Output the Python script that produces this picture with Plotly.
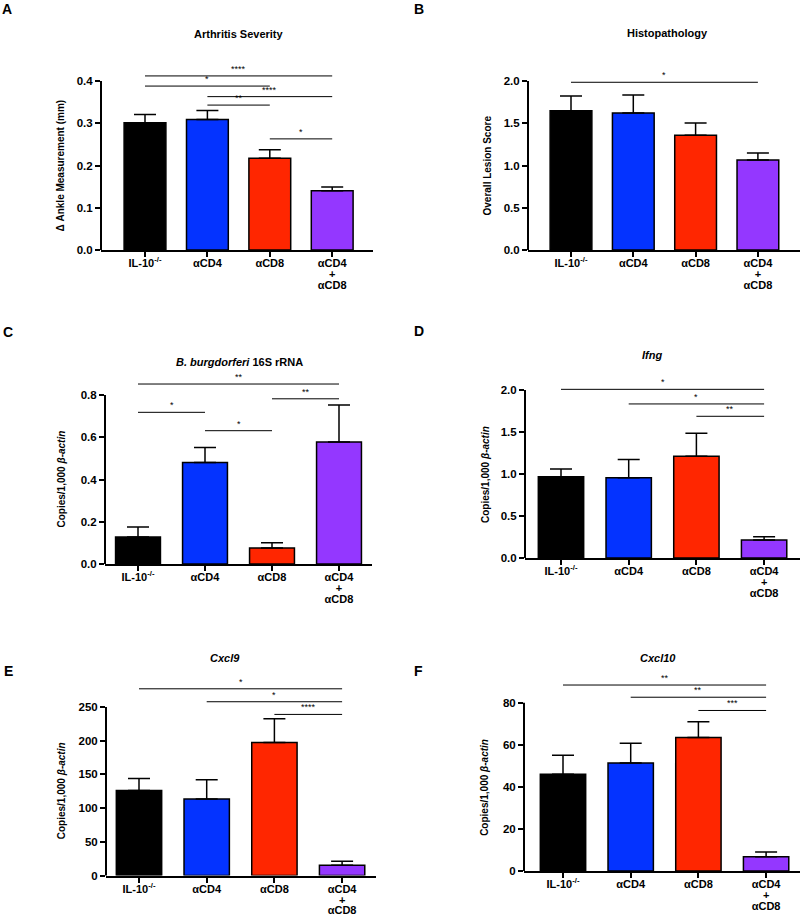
import plotly.graph_objects as go

W, H = 800, 916

categories = ["IL-10<sup>-/-</sup>", "αCD4", "αCD8", "αCD4<br>+<br>αCD8"]
bar_colors = ["#000000", "#0433FF", "#FF2600", "#9437FF"]

# Panel A - Arthritis severity
a_mean = [0.301, 0.309, 0.217, 0.140]
a_sem = [0.020, 0.021, 0.020, 0.009]
a_sig = [(0, 3, 0.412, "****"), (0, 2, 0.388, "*"), (1, 3, 0.363, "****"),
         (1, 2, 0.343, "**"), (2, 3, 0.263, "*")]

# Panel B - Histopathology
b_mean = [1.648, 1.620, 1.357, 1.065]
b_sem = [0.174, 0.214, 0.146, 0.083]
b_sig = [(0, 3, 1.985, "*")]

# Panel C - B. burgdorferi 16S rRNA
c_mean = [0.128, 0.481, 0.076, 0.578]
c_sem = [0.047, 0.071, 0.025, 0.175]
c_sig = [(0, 3, 0.852, "**"), (0, 1, 0.718, "*"), (1, 2, 0.631, "*"), (2, 3, 0.782, "**")]

# Panel D - Ifng
d_mean = [0.966, 0.954, 1.212, 0.214]
d_sem = [0.095, 0.218, 0.273, 0.039]
d_sig = [(0, 3, 2.008, "*"), (1, 3, 1.834, "*"), (2, 3, 1.687, "**")]

# Panel E - Cxcl9
e_mean = [126.0, 113.6, 197.5, 15.3]
e_sem = [18.0, 28.4, 35.0, 6.0]
e_sig = [(0, 3, 277, "*"), (1, 3, 257.8, "*"), (2, 3, 239, "****")]

# Panel F - Cxcl10
f_mean = [46.0, 51.3, 63.4, 6.8]
f_sem = [9.0, 9.4, 7.6, 2.2]
f_sig = [(0, 3, 88.4, "**"), (1, 3, 82.6, "**"), (2, 3, 76.3, "***")]

beta = "Copies/1,000 <i>β-actin</i>"
panels = [
    dict(letter="A", title="Arthritis Severity", ytitle="Δ Ankle Measurement (mm)",
         mean=a_mean, sem=a_sem, sig=a_sig, top=0.4, dtick=0.1, fmt=".1f",
         ax_l=101, ax_r=373, c0=145, sp=62.4, y0=250, yt=81,
         title_xy=(239, 34), letter_xy=(7, 8), ytitle_x=60),
    dict(letter="B", title="Histopathology", ytitle="Overall Lesion Score",
         mean=b_mean, sem=b_sem, sig=b_sig, top=2.0, dtick=0.5, fmt=".1f",
         ax_l=528, ax_r=800, c0=571, sp=62.3, y0=250, yt=81,
         title_xy=(667, 33), letter_xy=(419, 8), ytitle_x=487),
    dict(letter="C", title="<i>B. burgdorferi</i> 16S rRNA", ytitle=beta,
         mean=c_mean, sem=c_sem, sig=c_sig, top=0.8, dtick=0.2, fmt=".1f",
         ax_l=105, ax_r=372, c0=138, sp=67.0, y0=564, yt=395,
         title_xy=(239, 362), letter_xy=(8, 332), ytitle_x=61),
    dict(letter="D", title="<i>Ifng</i>", ytitle=beta,
         mean=d_mean, sem=d_sem, sig=d_sig, top=2.0, dtick=0.5, fmt=".1f",
         ax_l=525, ax_r=800, c0=561, sp=67.7, y0=558, yt=390,
         title_xy=(652, 355), letter_xy=(419, 331), ytitle_x=485),
    dict(letter="E", title="<i>Cxcl9</i>", ytitle=beta,
         mean=e_mean, sem=e_sem, sig=e_sig, top=250, dtick=50, fmt="d",
         ax_l=106, ax_r=376, c0=139, sp=67.7, y0=875.5, yt=707,
         title_xy=(225, 658), letter_xy=(8, 671), ytitle_x=61),
    dict(letter="F", title="<i>Cxcl10</i>", ytitle=beta,
         mean=f_mean, sem=f_sem, sig=f_sig, top=80, dtick=20, fmt="d",
         ax_l=524, ax_r=800, c0=563, sp=67.7, y0=871, yt=702.7,
         title_xy=(658, 658), letter_xy=(418, 671), ytitle_x=485),
]


def px(x):
    return x / W


def py(y):
    return 1 - y / H


def tick_label(txt, size=11):
    # each line drawn at `size`, while the base font (smaller) sets a tight line spacing
    return "<br>".join(f"<span style='font-size:{size}px'>{part}</span>"
                       for part in txt.split("<br>"))


FONT = "Arial, Liberation Sans, Helvetica, sans-serif"
fig = go.Figure()
shapes = []
annotations = []
layout_axes = {}

for i, p in enumerate(panels, start=1):
    xa = "x" if i == 1 else f"x{i}"
    ya = "y" if i == 1 else f"y{i}"
    xkey = "xaxis" if i == 1 else f"xaxis{i}"
    ykey = "yaxis" if i == 1 else f"yaxis{i}"

    scale = (p["y0"] - p["yt"]) / p["top"]  # px per unit
    ext_px = p["yt"] - 40
    ext_top = (p["y0"] - ext_px) / scale
    dom_y = [py(p["y0"]), py(ext_px)]
    dom_x = [px(p["ax_l"]), min(px(p["ax_r"]), 1.0)]
    xr = [(p["ax_l"] - p["c0"]) / p["sp"], (p["ax_r"] - p["c0"]) / p["sp"]]

    fig.add_trace(go.Bar(
        x=list(range(len(categories))), y=p["mean"],
        marker=dict(color=bar_colors, line=dict(color="black", width=1.5)),
        width=0.67,
        error_y=dict(type="data", symmetric=False, array=p["sem"],
                     arrayminus=[0] * len(p["sem"]), color="black",
                     thickness=1.5, width=11),
        xaxis=xa, yaxis=ya, showlegend=False, hoverinfo="skip",
    ))

    ntick = int(round(p["top"] / p["dtick"]))
    tickvals = [p["dtick"] * k for k in range(ntick + 1)]
    layout_axes[xkey] = dict(
        domain=dom_x, range=xr, anchor=ya, tickmode="array",
        tickvals=list(range(len(categories))),
        ticktext=[tick_label(c) for c in categories],
        showline=True, linecolor="black", linewidth=2, ticks="outside",
        ticklen=5, tickwidth=1.5, tickcolor="black", showgrid=False,
        zeroline=False, automargin=False, ticklabelstandoff=0,
        tickfont=dict(family=FONT, size=8.4, color="black", weight="bold"),
        fixedrange=True,
    )
    layout_axes[ykey] = dict(
        domain=dom_y, range=[0, ext_top], anchor=xa, tickmode="array",
        tickvals=tickvals, tickformat=p["fmt"], showline=False,
        ticks="outside", ticklen=5, tickwidth=1.5, tickcolor="black",
        showgrid=False, zeroline=False, automargin=False,
        tickfont=dict(family=FONT, size=11.5, color="black", weight="bold"),
        fixedrange=True,
    )
    # y axis line only up to the top tick
    shapes.append(dict(type="line", xref=f"{xa} domain", yref=ya, x0=0, x1=0,
                       y0=-0.012 * p["top"], y1=p["top"],
                       line=dict(color="black", width=2)))
    # significance brackets
    for (g1, g2, yv, stars) in p["sig"]:
        shapes.append(dict(type="line", xref=xa, yref=ya, x0=g1, x1=g2, y0=yv, y1=yv,
                           line=dict(color="black", width=1)))
        annotations.append(dict(x=(g1 + g2) / 2, y=yv, xref=xa, yref=ya, text=stars,
                                showarrow=False, yanchor="bottom", yshift=0,
                                font=dict(family=FONT, size=9, color="black")))
    # titles
    annotations.append(dict(x=px(p["title_xy"][0]), y=py(p["title_xy"][1]),
                            xref="paper", yref="paper", text=p["title"], showarrow=False,
                            xanchor="center", yanchor="middle",
                            font=dict(family=FONT, size=11, color="black", weight="bold")))
    annotations.append(dict(x=px(max(p["letter_xy"][0], 7)), y=py(max(p["letter_xy"][1], 9)),
                            xref="paper", yref="paper", text=p["letter"], showarrow=False,
                            xanchor="center", yanchor="middle", borderpad=0,
                            font=dict(family=FONT, size=14, color="black", weight="bold")))
    annotations.append(dict(x=px(p["ytitle_x"]), y=p["top"] / 2, xref="paper", yref=ya,
                            text=p["ytitle"], showarrow=False, textangle=-90,
                            xanchor="center", yanchor="middle",
                            font=dict(family=FONT, size=10, color="black", weight="bold")))

fig.update_layout(
    width=W, height=H, margin=dict(l=0, r=0, t=0, b=0, autoexpand=False),
    paper_bgcolor="white", plot_bgcolor="rgba(0,0,0,0)",
    showlegend=False, shapes=shapes, annotations=annotations,
    font=dict(family=FONT, color="black"),
    **layout_axes,
)

# remove the browser's default page margin so the 800x916 figure fills the window
fig.write_html("out.html", config={"displayModeBar": False},
               post_script="document.body.style.margin='0';")
